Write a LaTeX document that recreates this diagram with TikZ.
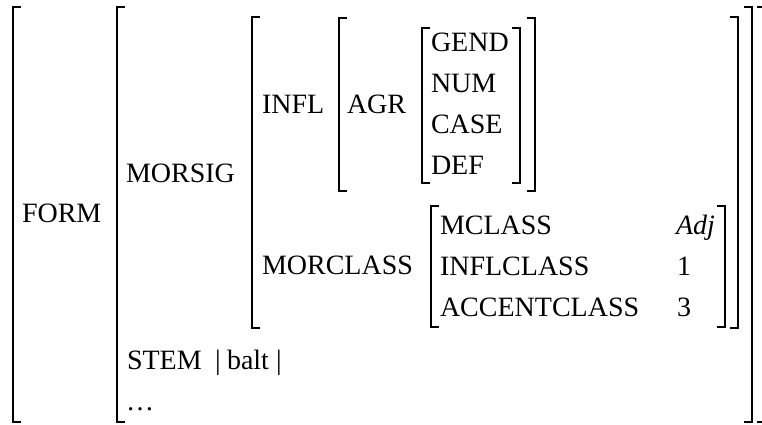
\documentclass[tikz,border=0pt]{standalone}
\usepackage{fontspec}
\setmainfont{Liberation Serif}
\begin{document}
\begin{tikzpicture}[x=1pt,y=-1pt,
  brk/.style={line width=1.6pt, line cap=butt, line join=miter},
  lbl/.style={anchor=base west, inner sep=0pt, outer sep=0pt, font=\fontsize{28}{33}\selectfont},
  val/.style={anchor=base east, inner sep=0pt, outer sep=0pt, font=\fontsize{28}{33}\selectfont}]
\useasboundingbox (0,0) rectangle (762,424);
\clip (0,0) rectangle (762,424);
% left brackets
\draw[brk] (21,7) -- (13,7) -- (13,422) -- (21,422);
\draw[brk] (125,7) -- (117,7) -- (117,422) -- (125,422);
\draw[brk] (260,17) -- (252,17) -- (252,328) -- (260,328);
\draw[brk] (347,18) -- (339,18) -- (339,191) -- (347,191);
\draw[brk] (430,28) -- (422,28) -- (422,183) -- (430,183);
\draw[brk] (439,206) -- (431,206) -- (431,327) -- (439,327);
% right brackets
\draw[brk] (512,28) -- (520,28) -- (520,183) -- (512,183);
\draw[brk] (527,18) -- (535,18) -- (535,191) -- (527,191);
\draw[brk] (717,206) -- (725,206) -- (725,327) -- (717,327);
\draw[brk] (730,17) -- (738,17) -- (738,328) -- (730,328);
\draw[brk] (744,7) -- (752,7) -- (752,422) -- (744,422);
\draw[brk] (757,7) -- (765,7) -- (765,422) -- (757,422);
% labels
\node[lbl] (form) at (22,222) {FORM};
\node[lbl] (morsig) at (126,182) {MORSIG};
\node[lbl] (infl) at (262,113) {INFL};
\node[lbl] (agr) at (347,113) {AGR};
\node[lbl] (gend) at (431,51) {GEND};
\node[lbl] (num) at (431,92) {NUM};
\node[lbl] (case) at (431,133) {CASE};
\node[lbl] (def) at (431,174) {DEF};
\node[lbl] (morclass) at (262,274) {MORCLASS};
\node[lbl] (mclass) at (440,234) {MCLASS};
\node[lbl] (inflclass) at (440,275) {INFLCLASS};
\node[lbl] (accentclass) at (440,316) {ACCENTCLASS};
\node[val] (adj) at (715,234) {\textit{Adj}};
\node[lbl] (one) at (677,275) {1};
\node[lbl] (three) at (677,316) {3};
\node[lbl] (stem) at (127,369) {STEM};
\node[lbl] (bara) at (215,369) {|};
\node[lbl] (balt) at (227,369) {balt};
\node[lbl] (barb) at (276,369) {|};
\node[lbl] (dots) at (126,410) {…};
\end{tikzpicture}
\end{document}
